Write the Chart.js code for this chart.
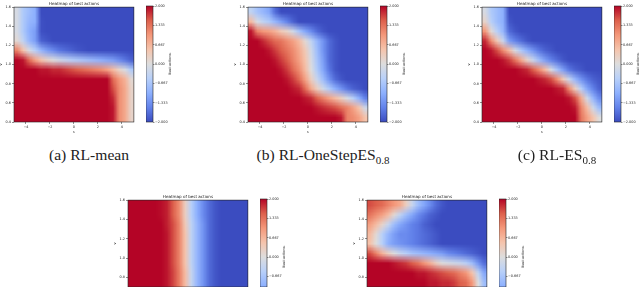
<!DOCTYPE html>
<html lang="en">

<head>
  <meta charset="UTF-8">
  <style>
    html, body { margin: 0; width: 640px; height: 287px; overflow: hidden; background: #fff; }
    canvas { position: absolute; filter: blur(0.25px); }
    .caption { position: absolute; font: 15.6px "Liberation Serif", serif; color: #222; white-space: nowrap; transform: translateX(-50%); }
    .caption sub { font-size: 11px; line-height: 0; }
    .cbLabel { position: absolute; font: 3.5px "DejaVu Sans", sans-serif; color: #222; white-space: nowrap; transform: translate(-50%, -50%) rotate(-90deg); filter: blur(0.2px); }
  </style>
</head>

<body>
  <div id="page"></div>

  <script src="https://cdn.jsdelivr.net/npm/chart.js"></script>
  <script>
    // cell centres of the heatmaps
    const sValues = [-4.75, -4.25, -3.75, -3.25, -2.75, -2.25, -1.75, -1.25, -0.75, -0.25, 0.25, 0.75, 1.25, 1.75, 2.25, 2.75, 3.25, 3.75, 4.25, 4.75];
    const vValues = [1.55, 1.45, 1.35, 1.25, 1.15, 1.05, 0.95, 0.85, 0.75, 0.65, 0.55, 0.45];

    const sTicks = [-4, -2, 0, 2, 4];
    const vTicks = [0.4, 0.6, 0.8, 1.0, 1.2, 1.4, 1.6];
    const barTicks = [2, 1.333, 0.667, 0, -0.667, -1.333, -2];

    const coolwarm = ['#3b4cc0', '#6282ea', '#8db0fe', '#b8d0f9', '#dddddd', '#f5c4ac', '#f4987a', '#dd604c', '#b40426'];

    const rlMean = [
      [-0.1, -0.6, -0.8, -1.0, -2, -2, -2, -2, -2, -2, -2, -2, -2, -2, -2, -2, -2, -2, -2, -2],
      [-0.1, -0.6, -0.9, -1.0, -1.95, -2, -2, -2, -2, -2, -2, -2, -2, -2, -2, -2, -2, -2, -2, -2],
      [-0.1, -0.6, -1.0, -1.2, -1.95, -2, -2, -2, -2, -2, -2, -2, -2, -2, -2, -2, -2, -2, -2, -2],
      [0.1, -0.4, -0.9, -1.2, -1.8, -1.9, -2, -2, -2, -2, -2, -2, -2, -2, -2, -2, -2, -2, -2, -2],
      [1.2, 0.5, -0.1, -0.5, -0.9, -1.2, -1.4, -1.6, -1.7, -1.8, -1.9, -1.95, -2, -2, -2, -2, -2, -2, -2, -2],
      [2, 1.9, 1.4, 0.9, 0.5, 0.2, 0, -0.2, -0.35, -0.5, -0.6, -0.7, -0.8, -0.9, -1, -1.1, -1.2, -1.4, -1.6, -1.8],
      [2, 2, 2, 2, 1.9, 1.9, 1.8, 1.8, 1.7, 1.6, 1.5, 1.4, 1.3, 1.2, 1.1, 0.9, 0.6, 0.2, -0.1, -0.6],
      [2, 2, 2, 2, 2, 2, 2, 2, 2, 2, 2, 2, 2, 2, 2, 2, 1.4, 1.0, 0.7, 0.1],
      [2, 2, 2, 2, 2, 2, 2, 2, 2, 2, 2, 2, 2, 2, 2, 2, 1.6, 1.1, 0.8, 0.2],
      [2, 2, 2, 2, 2, 2, 2, 2, 2, 2, 2, 2, 2, 2, 2, 2, 1.8, 1.1, 0.8, 0.2],
      [2, 2, 2, 2, 2, 2, 2, 2, 2, 2, 2, 2, 2, 2, 2, 2, 1.9, 1.1, 0.8, 0.2],
      [2, 2, 2, 2, 2, 2, 2, 2, 2, 2, 2, 2, 2, 2, 2, 2, 1.9, 1.1, 0.8, 0.2]
    ];

    const rlOneStep = [
      [-0.4, -0.7, -0.9, -1.1, -1.7, -2, -2, -2, -2, -2, -2, -2, -2, -2, -2, -2, -2, -2, -2, -2],
      [0.6, -0.1, -0.4, -0.6, -0.9, -1.2, -1.5, -1.8, -2, -2, -2, -2, -2, -2, -2, -2, -2, -2, -2, -2],
      [1.9, 1.2, 1, 0.9, 0.7, 0.4, 0.2, -0.2, -0.7, -1.1, -1.4, -1.7, -1.9, -2, -2, -2, -2, -2, -2, -2],
      [2, 2, 1.8, 1.6, 1.4, 1.3, 1.1, 0.9, 0.6, 0.1, -0.4, -0.9, -1.3, -1.7, -1.9, -2, -2, -2, -2, -2],
      [2, 2, 2, 1.9, 1.7, 1.5, 1.3, 1.1, 0.8, 0.4, -0.2, -0.8, -1.3, -1.7, -1.9, -2, -2, -2, -2, -2],
      [2, 2, 2, 2, 1.9, 1.7, 1.5, 1.2, 0.9, 0.5, -0.1, -0.7, -1.2, -1.7, -1.9, -2, -2, -2, -2, -2],
      [2, 2, 2, 2, 2, 1.9, 1.7, 1.4, 1.1, 0.6, 0, -0.6, -1.1, -1.6, -1.9, -2, -2, -2, -2, -2],
      [2, 2, 2, 2, 2, 2, 1.9, 1.7, 1.4, 0.9, 0.3, -0.3, -0.8, -1.3, -1.7, -1.9, -2, -2, -2, -2],
      [2, 2, 2, 2, 2, 2, 2, 1.9, 1.8, 1.4, 0.8, 0.3, -0.2, -0.6, -1, -1.3, -1.6, -1.8, -1.9, -2],
      [2, 2, 2, 2, 2, 2, 2, 2, 2, 1.9, 1.8, 1.5, 1.2, 0.9, 0.6, 0.3, -0.1, -0.5, -1, -1.5],
      [2, 2, 2, 2, 2, 2, 2, 2, 2, 2, 2, 1.9, 1.8, 1.7, 1.6, 1.4, 1.2, 0.9, 0.5, -0.2],
      [2, 2, 2, 2, 2, 2, 2, 2, 2, 2, 2, 2, 2, 2, 2, 1.9, 1.2, 1.1, 0.9, 0.5]
    ];

    const rlEs = [
      [-0.1, -0.6, -0.8, -1.0, -2, -2, -2, -2, -2, -2, -2, -2, -2, -2, -2, -2, -2, -2, -2, -2],
      [0.2, -0.5, -0.8, -1.0, -1.9, -2, -2, -2, -2, -2, -2, -2, -2, -2, -2, -2, -2, -2, -2, -2],
      [1.0, 0.1, -0.5, -0.9, -1.7, -1.9, -2, -2, -2, -2, -2, -2, -2, -2, -2, -2, -2, -2, -2, -2],
      [1.8, 1.1, 0.4, -0.3, -1.2, -1.5, -1.7, -1.9, -2, -2, -2, -2, -2, -2, -2, -2, -2, -2, -2, -2],
      [2, 1.9, 1.6, 1.1, 0.6, -0.1, -0.6, -1, -1.3, -1.6, -1.8, -1.9, -2, -2, -2, -2, -2, -2, -2, -2],
      [2, 2, 2, 1.9, 1.7, 1.3, 0.8, 0.2, -0.3, -0.8, -1.2, -1.5, -1.7, -1.9, -2, -2, -2, -2, -2, -2],
      [2, 2, 2, 2, 2, 2, 1.9, 1.8, 1.5, 1.1, 0.6, -0.1, -0.7, -1.2, -1.6, -1.8, -1.9, -2, -2, -2],
      [2, 2, 2, 2, 2, 2, 2, 2, 2, 1.9, 1.8, 1.6, 1.1, 0.4, -0.3, -0.9, -1.3, -1.6, -1.8, -1.9],
      [2, 2, 2, 2, 2, 2, 2, 2, 2, 2, 2, 2, 1.9, 1.8, 1.1, 0.3, -0.5, -1.1, -1.5, -1.8],
      [2, 2, 2, 2, 2, 2, 2, 2, 2, 2, 2, 2, 2, 2, 1.9, 1.6, 0.8, -0.2, -0.9, -1.4],
      [2, 2, 2, 2, 2, 2, 2, 2, 2, 2, 2, 2, 2, 2, 2, 1.9, 1.2, 0.6, -0.2, -0.8],
      [2, 2, 2, 2, 2, 2, 2, 2, 2, 2, 2, 2, 2, 2, 2, 2, 1.3, 0.9, 0.5, 0]
    ];

    // the two lower plots run off the bottom of the picture, only these rows show
    const rlFourth = [
      [2, 2, 2, 2, 2, 1.95, 1.85, 1.5, 1.1, 0.3, -0.5, -1.0, -1.4, -1.7, -1.9, -2, -2, -2, -2, -2],
      [2, 2, 2, 2, 2, 1.95, 1.85, 1.5, 1.1, 0.3, -0.5, -1.0, -1.4, -1.7, -1.9, -2, -2, -2, -2, -2],
      [2, 2, 2, 2, 2, 2, 1.85, 1.6, 1.2, 0.4, -0.4, -0.9, -1.3, -1.7, -1.9, -2, -2, -2, -2, -2],
      [2, 2, 2, 2, 2, 2, 1.9, 1.6, 1.2, 0.5, -0.4, -0.9, -1.3, -1.7, -1.9, -2, -2, -2, -2, -2],
      [2, 2, 2, 2, 2, 2, 1.9, 1.6, 1.2, 0.5, -0.4, -0.9, -1.3, -1.7, -1.9, -2, -2, -2, -2, -2],
      [2, 2, 2, 2, 2, 2, 1.9, 1.6, 1.2, 0.5, -0.4, -0.9, -1.3, -1.7, -1.9, -2, -2, -2, -2, -2],
      [2, 2, 2, 2, 2, 2, 1.9, 1.6, 1.2, 0.5, -0.4, -0.9, -1.3, -1.7, -1.9, -2, -2, -2, -2, -2],
      [2, 2, 2, 2, 2, 2, 1.9, 1.65, 1.25, 0.6, -0.3, -0.9, -1.3, -1.7, -1.9, -2, -2, -2, -2, -2],
      [2, 2, 2, 2, 2, 2, 1.9, 1.65, 1.25, 0.6, -0.3, -0.9, -1.3, -1.7, -1.9, -2, -2, -2, -2, -2]
    ];

    const rlFifth = [
      [1.6, 1.5, 1.4, 1.2, 1, 0.8, 0.3, -0.3, -0.8, -1.1, -1.4, -1.7, -1.9, -2, -2, -2, -2, -2, -2, -2],
      [1.3, 1.1, 0.9, 0.6, 0.1, -0.4, -0.8, -1.1, -1.4, -1.6, -1.8, -1.9, -2, -2, -2, -2, -2, -2, -2, -2],
      [0.9, 0.6, 0.2, -0.3, -0.8, -1.1, -1.3, -1.5, -1.6, -1.8, -1.9, -2, -2, -2, -2, -2, -2, -2, -2, -2],
      [0.6, 0.1, -0.5, -0.9, -1.2, -1.4, -1.4, -1.5, -1.6, -1.7, -1.8, -1.9, -2, -2, -2, -2, -2, -2, -2, -2],
      [0.5, 0, -0.5, -1, -1.2, -1.3, -1.4, -1.5, -1.6, -1.7, -1.8, -1.9, -2, -2, -2, -2, -2, -2, -2, -2],
      [1.6, 1.2, 0.7, 0.3, 0, -0.3, -0.5, -0.7, -0.8, -0.9, -1, -1.1, -1.2, -1.4, -1.5, -1.6, -1.7, -1.8, -1.9, -2],
      [2, 2, 2, 2, 1.9, 1.8, 1.7, 1.5, 1.3, 1, 0.7, 0.3, 0, -0.1, -0.2, -0.3, -0.5, -0.8, -1.3, -1.7],
      [2, 2, 2, 2, 2, 2, 2, 2, 1.9, 1.9, 1.8, 1.7, 1.6, 1.5, 1.4, 1.2, 1, 0.5, -0.4, -1.1],
      [2, 2, 2, 2, 2, 2, 2, 2, 2, 2, 1.9, 1.9, 1.8, 1.8, 1.7, 1.5, 1.4, 1, 0, -0.8]
    ];

    const page = document.getElementById('page');
    const tickFont = { family: '"DejaVu Sans", sans-serif', size: 3.4 };
    const inkColor = '#222';

    function hexToRgb(hex) {
      return [1, 3, 5].map(i => parseInt(hex.substr(i, 2), 16));
    }

    function colorFor(value) {
      const pos = (value + 2) / 4 * (coolwarm.length - 1);
      const i = Math.min(Math.floor(pos), coolwarm.length - 2);
      const a = hexToRgb(coolwarm[i]);
      const b = hexToRgb(coolwarm[i + 1]);
      const t = pos - i;
      return `rgb(${a.map((c, k) => Math.round(c + (b[k] - c) * t)).join(',')})`;
    }

    // smooths the plotted cells and draws the frame
    const smoothCells = {
      id: 'smoothCells',
      afterDatasetsDraw(chart) {
        const a = chart.chartArea;
        const cols = sValues.length;
        const rows = chart.data.datasets[0].data.length / cols;
        const tmp = document.createElement('canvas');
        tmp.width = cols;
        tmp.height = rows;
        const t = tmp.getContext('2d');
        t.imageSmoothingEnabled = false;
        t.drawImage(chart.canvas, a.left, a.top, a.width, a.height, 0, 0, cols, rows);
        const ctx = chart.ctx;
        ctx.save();
        ctx.imageSmoothingEnabled = true;
        ctx.drawImage(tmp, 0, 0, cols, rows, a.left, a.top, a.width, a.height);
        ctx.strokeStyle = inkColor;
        ctx.lineWidth = 0.6;
        ctx.strokeRect(a.left, a.top, a.width, a.height);
        ctx.restore();
      }
    };

    const frame = {
      id: 'frame',
      afterDatasetsDraw(chart) {
        const a = chart.chartArea;
        chart.ctx.save();
        chart.ctx.strokeStyle = inkColor;
        chart.ctx.lineWidth = 0.6;
        chart.ctx.strokeRect(a.left, a.top, a.width, a.height);
        chart.ctx.restore();
      }
    };

    function addCanvas(left, top, width, height) {
      const c = document.createElement('canvas');
      c.width = width;
      c.height = height;
      c.style.left = left + 'px';
      c.style.top = top + 'px';
      page.appendChild(c);
      return c;
    }

    // tick labels must not push the plot area in
    function noPadding(s) {
      s.paddingTop = 0;
      s.paddingBottom = 0;
    }

    // the lower plots keep their s axis too, it just falls below the window
    function heatmap(plotLeft, plotTop, rows, vMin, plotHeight) {
      const cells = [];
      rows.forEach((row, r) => row.forEach((v, c) => cells.push({ x: sValues[c], y: vValues[r], v })));
      const canvas = addCanvas(plotLeft - 16, plotTop - 6, 143, 6 + plotHeight + 14);
      return new Chart(canvas, {
        type: 'scatter',
        data: {
          datasets: [{
            data: cells,
            pointStyle: 'rect',
            pointRadius: 7.1,
            pointBorderWidth: 0,
            backgroundColor: cells.map(p => colorFor(p.v)),
            clip: 0
          }]
        },
        plugins: [smoothCells],
        options: {
          responsive: false,
          animation: false,
          events: [],
          layout: { padding: { right: 3 } },
          plugins: {
            legend: { display: false },
            tooltip: { enabled: false },
            title: {
              display: true,
              text: 'Heatmap of best actions',
              fullSize: false,
              color: inkColor,
              padding: 0,
              font: { family: tickFont.family, size: 4.1, weight: 'normal', lineHeight: 1.46 }
            }
          },
          scales: {
            x: {
              type: 'linear',
              min: -5,
              max: 5,
              afterBuildTicks: s => { s.ticks = sTicks.map(value => ({ value })); },
              afterFit: s => { s.height = 14; },
              grid: { drawOnChartArea: false, tickLength: 2, color: inkColor, lineWidth: 0.5 },
              border: { display: false },
              ticks: { font: tickFont, color: inkColor, padding: 1, maxRotation: 0, callback: v => String(v).replace('-', '\u2212') },
              title: { display: true, text: 's', color: inkColor, font: tickFont, padding: 2 }
            },
            y: {
              type: 'linear',
              min: vMin,
              max: 1.6,
              afterBuildTicks: s => { s.ticks = vTicks.filter(v => v >= vMin).map(value => ({ value })); },
              afterFit: s => { s.width = 16; noPadding(s); },
              grid: { drawOnChartArea: false, tickLength: 2, color: inkColor, lineWidth: 0.5 },
              border: { display: false },
              ticks: { font: tickFont, color: inkColor, padding: 1, callback: v => v.toFixed(1) },
              title: { display: true, text: 'v', color: inkColor, font: tickFont, padding: 1 }
            }
          }
        }
      });
    }

    function colorbar(barLeft, plotTop, barMin, plotHeight, bottomGap, labelLeft, labelTop) {
      const canvas = addCanvas(barLeft, plotTop - 6, 31, 6 + plotHeight + bottomGap);
      new Chart(canvas, {
        type: 'bar',
        data: {
          labels: ['Best actions'],
          datasets: [{
            data: [[barMin, 2]],
            barPercentage: 1,
            categoryPercentage: 1,
            backgroundColor(ctx) {
              const y = ctx.chart.scales.y;
              const lo = y ? y.getPixelForValue(-2) : NaN;
              const hi = y ? y.getPixelForValue(2) : NaN;
              if (!Number.isFinite(lo) || !Number.isFinite(hi)) return coolwarm[0];
              const g = ctx.chart.ctx.createLinearGradient(0, lo, 0, hi);
              coolwarm.forEach((c, i) => g.addColorStop(i / (coolwarm.length - 1), c));
              return g;
            }
          }]
        },
        plugins: [frame],
        options: {
          responsive: false,
          animation: false,
          events: [],
          layout: { padding: { top: 6, bottom: bottomGap } },
          plugins: { legend: { display: false }, tooltip: { enabled: false } },
          scales: {
            x: { display: false, afterFit: s => { s.height = 0; } },
            y: {
              position: 'right',
              min: barMin,
              max: 2,
              afterBuildTicks: s => { s.ticks = barTicks.filter(v => v >= barMin).map(value => ({ value })); },
              afterFit: s => { s.width = 24; noPadding(s); },
              grid: { drawOnChartArea: false, tickLength: 1.5, color: inkColor, lineWidth: 0.5 },
              border: { display: false },
              ticks: { font: tickFont, color: inkColor, padding: 0.5, callback: v => v.toFixed(3).replace('-', '\u2212') }
            }
          }
        }
      });
      const label = document.createElement('div');
      label.className = 'cbLabel';
      label.textContent = 'Best actions';
      label.style.left = labelLeft + 'px';
      label.style.top = labelTop + 'px';
      page.appendChild(label);
    }

    function caption(html, center, top) {
      const d = document.createElement('div');
      d.className = 'caption';
      d.innerHTML = html;
      d.style.left = center + 'px';
      d.style.top = top + 'px';
      page.appendChild(d);
    }

    heatmap(14, 6, rlMean, 0.4, 116);
    colorbar(146, 6, -2, 116, 14, 170, 64);
    heatmap(248, 6, rlOneStep, 0.4, 116);
    colorbar(380, 6, -2, 116, 14, 404, 64);
    heatmap(482, 6, rlEs, 0.4, 116);
    colorbar(614, 6, -2, 116, 14, 638, 64);

    heatmap(128, 199, rlFourth, 0.7, 88);
    colorbar(260, 199, -1.034, 88, 0, 284, 257);
    heatmap(367, 199, rlFifth, 0.7, 88);
    colorbar(499, 199, -1.034, 88, 0, 523, 257);

    caption('(a) RL-mean', 89, 146);
    caption('(b) RL-OneStepES<sub>0.8</sub>', 323, 146);
    caption('(c) RL-ES<sub>0.8</sub>', 557, 146);
  </script>
</body>

</html>
